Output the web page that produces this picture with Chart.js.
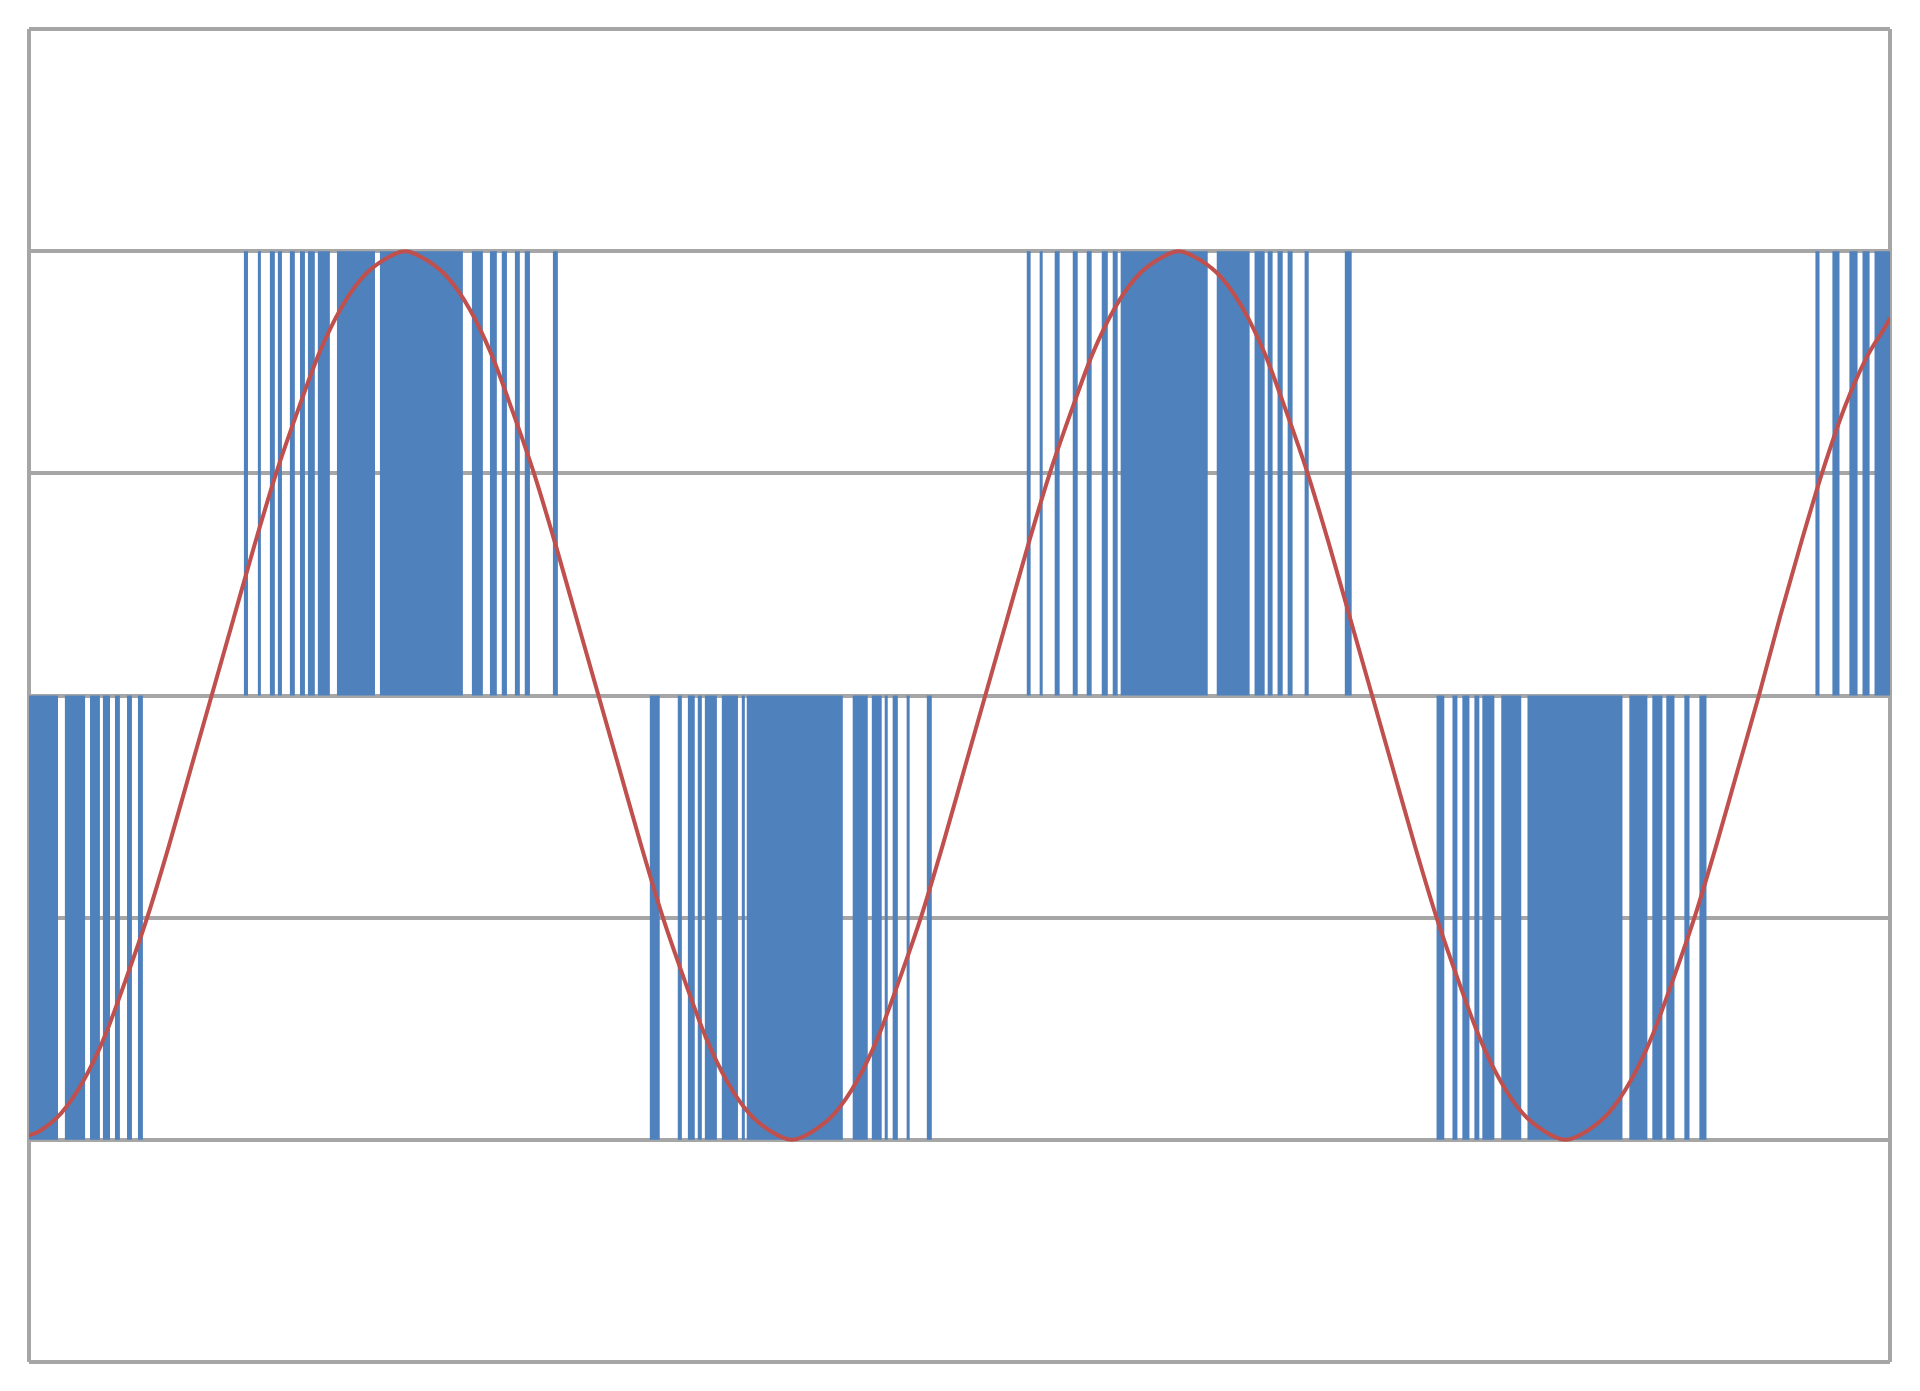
<!DOCTYPE html>
<html>
<head>
<meta charset="utf-8">
<script src="https://cdn.jsdelivr.net/npm/chart.js@4/dist/chart.umd.min.js"></script>
<style>
  html, body { margin: 0; padding: 0; background: #ffffff; }
  #wrap { width: 1920px; height: 1391px; position: relative; }
</style>
</head>
<body>
<div id="wrap"><canvas id="myChart"></canvas></div>
<script>
// phase axis, in degrees
var xMin = -85;
var xMax = 781;

// reference sine (red)
var sineX = [-85, -80, -70, -60, -50, -40, -30, -20, -10,
    0, 10, 20, 30, 40, 50, 60, 70, 80, 90, 100, 110, 120, 130, 140, 150, 160, 170,
    180, 190, 200, 210, 220, 230, 240, 250, 260, 270, 280, 290, 300, 310, 320, 330, 340, 350,
    360, 370, 380, 390, 400, 410, 420, 430, 440, 450, 460, 470, 480, 490, 500, 510, 520, 530,
    540, 550, 560, 570, 580, 590, 600, 610, 620, 630, 640, 650, 660, 670, 680, 690, 700, 710,
    720, 730, 740, 750, 760, 770, 780, 781];
var sineY = [-0.99, -0.98, -0.94, -0.87, -0.77, -0.64, -0.5, -0.34, -0.17,
    0, 0.17, 0.34, 0.5, 0.64, 0.77, 0.87, 0.94, 0.98, 1, 0.98, 0.94, 0.87, 0.77, 0.64, 0.5, 0.34, 0.17,
    0, -0.17, -0.34, -0.5, -0.64, -0.77, -0.87, -0.94, -0.98, -1, -0.98, -0.94, -0.87, -0.77, -0.64, -0.5, -0.34, -0.17,
    0, 0.17, 0.34, 0.5, 0.64, 0.77, 0.87, 0.94, 0.98, 1, 0.98, 0.94, 0.87, 0.77, 0.64, 0.5, 0.34, 0.17,
    0, -0.17, -0.34, -0.5, -0.64, -0.77, -0.87, -0.94, -0.98, -1, -0.98, -0.94, -0.87, -0.77, -0.64, -0.5, -0.34, -0.17,
    0, 0.18, 0.35, 0.51, 0.65, 0.76, 0.84, 0.85];

// PWM pulses (blue): [start, end] in degrees, going up to +1
var posPulses = [
    [15.0, 16.9], [21.5, 22.9], [27.1, 29.4], [30.8, 32.7], [36.4, 38.7], [41.1, 43.4],
    [44.8, 48.0], [49.4, 55.0], [58.3, 76.0], [78.3, 116.9], [121.1, 126.2], [129.5, 132.7],
    [135.0, 137.4], [141.1, 143.4], [145.7, 148.1], [158.8, 161.1],
    [379.3, 381.1], [385.3, 386.7], [392.3, 394.6], [400.7, 403.0], [407.2, 409.5], [414.2, 417.0],
    [419.3, 421.6], [423.0, 463.5], [467.7, 483.0], [485.3, 490.0], [491.4, 493.7], [496.0, 498.4],
    [500.7, 503.0], [508.6, 510.5], [527.3, 530.5],
    [746.3, 748.2], [754.2, 757.5], [762.1, 765.9], [768.2, 771.5], [773.8, 781]
];
// pulses going down to -1
var negPulses = [
    [-85, -71.5], [-68.3, -58.9], [-56.6, -52.0], [-50.6, -47.3], [-45.0, -42.7], [-39.4, -37.1],
    [-34.3, -32.0],
    [203.9, 208.5], [216.9, 218.8], [221.6, 224.8], [226.2, 228.1], [229.5, 235.1], [237.4, 244.9],
    [246.7, 248.1], [249.0, 293.7], [298.3, 305.3], [307.2, 311.8], [313.2, 314.6], [316.9, 319.3],
    [323.4, 324.8], [332.8, 335.1],
    [570.0, 573.6], [577.4, 579.7], [582.0, 585.3], [587.6, 589.9], [591.3, 596.9], [600.1, 609.4],
    [612.3, 656.5], [659.7, 668.1], [670.4, 675.1], [676.9, 680.7], [685.3, 687.7], [692.3, 695.6]
];

var gridColor = '#a6a6a6';

function pulseWave() {
    var all = [];
    posPulses.forEach(function (p) { all.push([p[0], p[1], 1]); });
    negPulses.forEach(function (p) { all.push([p[0], p[1], -1]); });
    all.sort(function (a, b) { return a[0] - b[0]; });
    var pts = [];
    all.forEach(function (p) {
        pts.push({ x: p[0], y: 0 });
        pts.push({ x: p[0], y: p[2] });
        pts.push({ x: p[1], y: p[2] });
        pts.push({ x: p[1], y: 0 });
    });
    return pts;
}

var sinePts = sineX.map(function (x, i) { return { x: x, y: sineY[i] }; });

var ctx = document.getElementById('myChart').getContext('2d');
var myChart = new Chart(ctx, {
    type: 'line',
    data: {
        datasets: [{
            label: 'sine',
            data: sinePts,
            borderColor: '#c0504d',
            borderWidth: 4,
            pointRadius: 0,
            cubicInterpolationMode: 'monotone',
            fill: false,
            order: 0
        }, {
            label: 'pwm',
            data: pulseWave(),
            borderWidth: 0,
            borderColor: 'rgba(0,0,0,0)',
            backgroundColor: '#4f81bd',
            pointRadius: 0,
            tension: 0,
            fill: 'origin',
            order: 1
        }]
    },
    options: {
        responsive: true,
        maintainAspectRatio: false,
        animation: false,
        layout: { padding: { left: 29, top: 29, right: 30, bottom: 29 } },
        plugins: {
            legend: { display: false },
            tooltip: { enabled: false }
        },
        scales: {
            x: {
                type: 'linear',
                min: xMin,
                max: xMax,
                afterBuildTicks: function (axis) {
                    axis.ticks = [{ value: xMin }, { value: xMax }];
                },
                ticks: { display: false },
                grid: { color: gridColor, lineWidth: 4, drawTicks: false },
                border: { display: false }
            },
            y: {
                min: -1.5,
                max: 1.5,
                ticks: { display: false, stepSize: 0.5 },
                grid: { color: gridColor, lineWidth: 4, drawTicks: false },
                border: { display: false }
            }
        }
    }
});
</script>
</body>
</html>
